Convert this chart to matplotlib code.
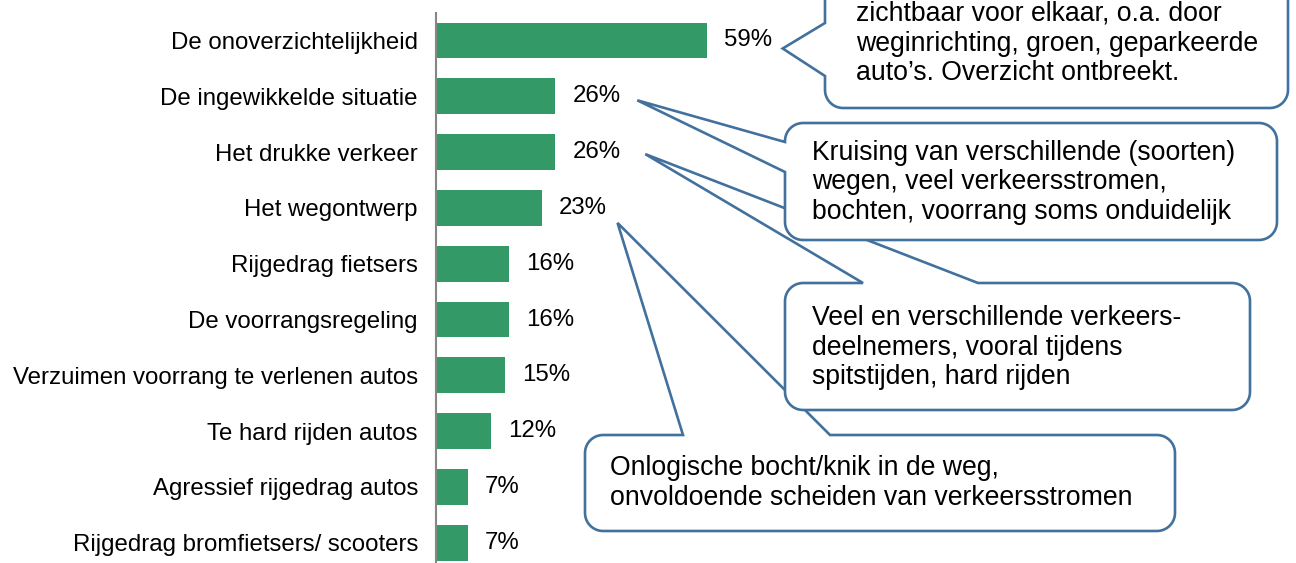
import numpy as np
import matplotlib
matplotlib.use('Agg')
import matplotlib.pyplot as plt
from matplotlib.patches import Polygon

#------------------------data------------------------
categorieen = ['De onoverzichtelijkheid', 'De ingewikkelde situatie', 'Het drukke verkeer',
               'Het wegontwerp', 'Rijgedrag fietsers', 'De voorrangsregeling',
               'Verzuimen voorrang te verlenen autos', 'Te hard rijden autos',
               'Agressief rijgedrag autos', 'Rijgedrag bromfietsers/ scooters']
waarden = [59, 26, 26, 23, 16, 16, 15, 12, 7, 7]

tekst_1 = ['zichtbaar voor elkaar, o.a. door', 'weginrichting, groen, geparkeerde',
           'auto\u2019s. Overzicht ontbreekt.']
tekst_2 = ['Kruising van verschillende (soorten)', 'wegen, veel verkeersstromen,',
           'bochten, voorrang soms onduidelijk']
tekst_3 = ['Veel en verschillende verkeers-', 'deelnemers, vooral tijdens',
           'spitstijden, hard rijden']
tekst_4 = ['Onlogische bocht/knik in de weg,', 'onvoldoende scheiden van verkeersstromen']

#------------------------style------------------------
plt.rcParams['font.family'] = ['Liberation Sans', 'DejaVu Sans']
groen = '#339966'
rand = '#41719C'
W, H = 1296, 563

fig = plt.figure(figsize=(W/100, H/100), dpi=100)
ax = fig.add_axes([436/W, -7.6/H, 860/W, 558/H])
ypos = np.arange(len(waarden))
ax.barh(ypos, waarden, height=0.64, color=groen)
ax.set_ylim(9.5, -0.5)
ax.set_xlim(0, 860/4.588)
for s in ['top', 'right', 'bottom']:
    ax.spines[s].set_visible(False)
ax.spines['left'].set_color('#868686')
ax.spines['left'].set_linewidth(1.5)
ax.set_xticks([])
ax.set_yticks(ypos)
ax.set_yticklabels(categorieen, fontsize=17.3)
ax.tick_params(axis='y', length=0, pad=13)
for i, v in enumerate(waarden):
    ax.annotate('%d%%' % v, (v, i), xytext=(17, 0), textcoords='offset pixels',
                va='center', ha='left', fontsize=17.3)

#------------------------callouts (pixel overlay)------------------------
ov = fig.add_axes([0, 0, 1, 1])
ov.set_xlim(0, W)
ov.set_ylim(H, 0)
ov.axis('off')


def punt(i, dx, dy):
    # end of bar i in overlay pixels plus an offset
    x, y = ax.transData.transform((waarden[i], i))
    return (x + dx, H - y + dy)


def ballon(x0, y0, x1, y1, kant, a, b, tip, r=18):
    def boog(cx, cy, t0, t1):
        t = np.radians(np.linspace(t0, t1, 12))
        return list(zip(cx + r*np.cos(t), cy + r*np.sin(t)))
    pts = [(x0 + r, y0)]
    if kant == 'top':
        pts += [(a, y0), tip, (b, y0)]
    pts += [(x1 - r, y0)] + boog(x1 - r, y0 + r, 270, 360)
    pts += [(x1, y1 - r)] + boog(x1 - r, y1 - r, 0, 90)
    pts += [(x0 + r, y1)] + boog(x0 + r, y1 - r, 90, 180)
    if kant == 'left':
        pts += [(x0, b), tip, (x0, a)]
    pts += [(x0, y0 + r)] + boog(x0 + r, y0 + r, 180, 270)
    return pts


def teken(box, kant, a, b, tip, x_tekst, y_basis, regels, z):
    ov.add_patch(Polygon(ballon(*box, kant, a, b, tip), closed=True, fc='white',
                         ec=rand, lw=1.9, zorder=z))
    for k, regel in enumerate(regels):
        ov.text(x_tekst, y_basis + 29.7*k, regel, fontsize=19.2, va='baseline',
                ha='left', zorder=z + 0.5)


teken((585, 435, 1175, 531), 'top', 683, 830, punt(3, 76, 15), 610, 475, tekst_4, 2)
teken((785, 283, 1250, 410), 'top', 863, 978, punt(2, 90, 2), 812, 325, tekst_3, 3)
teken((785, 123, 1277, 240), 'left', 142, 172, punt(1, 82, 4), 812, 159.5, tekst_2, 4)
teken((825, -60, 1288, 108), 'left', 23, 76, punt(0, 76, 8), 856, 21, tekst_1, 5)

plt.savefig('out.png', dpi=100)
